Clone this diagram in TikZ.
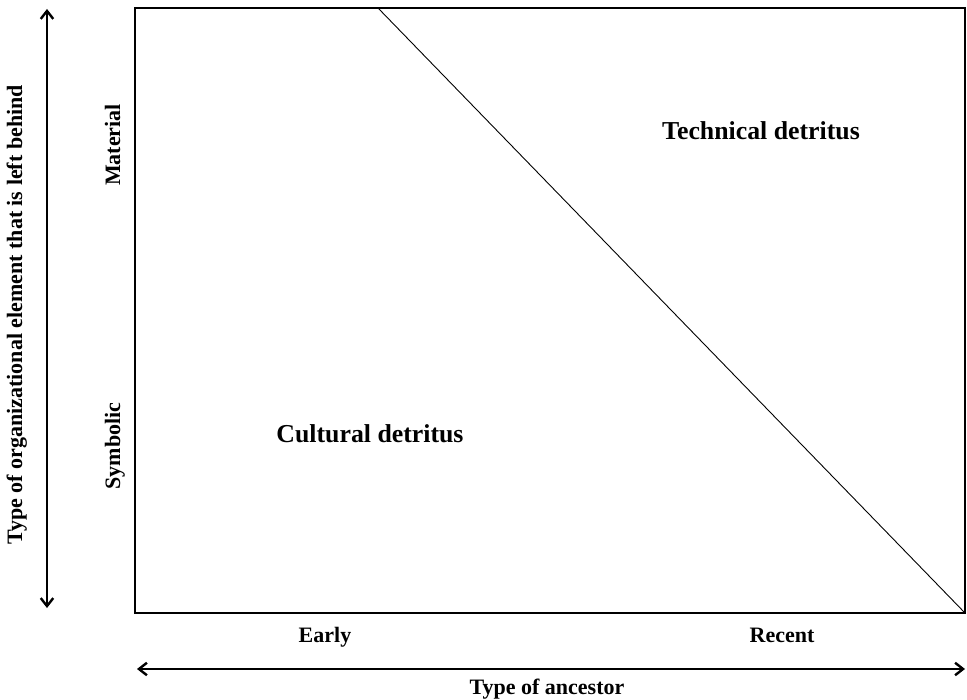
\documentclass[tikz,border=0pt]{standalone}
\usepackage{fontspec}
\setmainfont{Liberation Serif}
\usetikzlibrary{arrows.meta,positioning}
\tikzset{
    region/.style={
        font=\bfseries\fontsize{25.8}{30}\selectfont
    },
    axislbl/.style={
        font=\bfseries\fontsize{22}{26}\selectfont,
        inner sep=0pt,
        anchor=base
    },
    axis/.style={
        {Straight Barb[length=2.8mm,width=4.4mm]}-{Straight Barb[length=2.8mm,width=4.4mm]},
        line width=2.4pt
    },
    frame/.style={
        draw,
        line width=1.3pt
    }
}

\begin{document}
\begin{tikzpicture}[x=1pt,y=-1pt]
\useasboundingbox (0,0) rectangle (967,700);

% frame and split
\coordinate (tl) at (135,8);
\coordinate (br) at (965,613);
\coordinate (cut) at (378,8);
\draw[frame] (tl) rectangle (br);
\draw[line width=0.9pt] (cut) -- (br);

% regions
\node[region] (tech) at (761,131) {Technical detritus};
\node[region] (cult) at (370,434) {Cultural detritus};

% vertical axis
\coordinate (vtop) at (47,9);
\coordinate (vbot) at (47,608);
\draw[axis] (vbot) -- (vtop);
\node[axislbl, rotate=90] (vname) at (22,315) {Type of organizational element that is left behind};
\node[axislbl, rotate=90] (mat) at (120,145) {Material};
\node[axislbl, rotate=90] (sym) at (120,446) {Symbolic};

% horizontal axis
\coordinate (hleft) at (137,669);
\coordinate (hright) at (965,669);
\draw[axis] (hleft) -- (hright);
\node[axislbl] (early) at (325,642) {Early};
\node[axislbl] (recent) at (782,642) {Recent};
\node[axislbl] (hname) at (547,694) {Type of ancestor};

\end{tikzpicture}
\end{document}
